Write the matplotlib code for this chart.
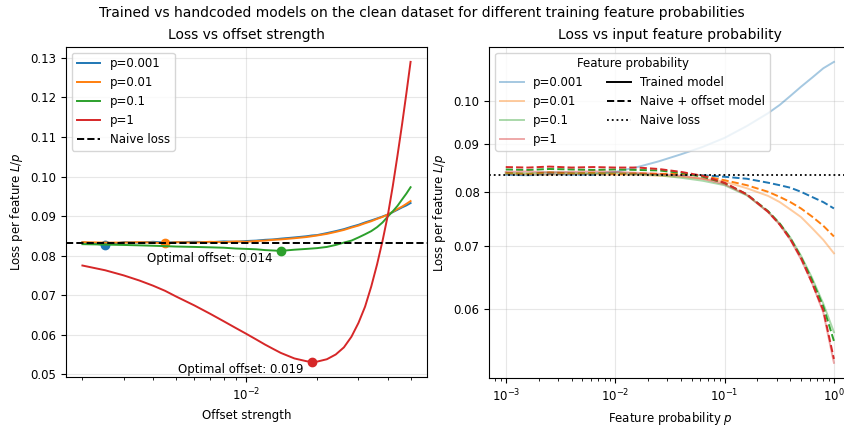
import numpy as np
import matplotlib.pyplot as plt
from matplotlib.lines import Line2D
from matplotlib.ticker import FixedLocator, FormatStrFormatter, NullLocator

# ---- left panel: loss vs offset strength ----
offsets = [0.002, 0.0025, 0.003, 0.0035, 0.004, 0.0045, 0.005, 0.006, 0.007,
           0.008, 0.009, 0.010, 0.011, 0.012, 0.013, 0.014, 0.016, 0.018,
           0.019, 0.020, 0.022, 0.024, 0.026, 0.028, 0.030, 0.032, 0.034,
           0.036, 0.038, 0.040, 0.042, 0.044, 0.046, 0.048, 0.050]
loss_off_p0001 = [0.0834, 0.0827, 0.0834, 0.0833, 0.0835, 0.0833, 0.0834,
                  0.0835, 0.0834, 0.0836, 0.0835, 0.0837, 0.0838, 0.0840,
                  0.0841, 0.0843, 0.0846, 0.0849, 0.0851, 0.0852, 0.0857,
                  0.0862, 0.0867, 0.0873, 0.0878, 0.0884, 0.0889, 0.0894,
                  0.0899, 0.0904, 0.0910, 0.0916, 0.0922, 0.0927, 0.0933]
loss_off_p001 = [0.0834, 0.0833, 0.0833, 0.0834, 0.0833, 0.0831, 0.0834,
                 0.0833, 0.0835, 0.0834, 0.0836, 0.0835, 0.0837, 0.0838,
                 0.0840, 0.0841, 0.0844, 0.0847, 0.0849, 0.0851, 0.0855,
                 0.0860, 0.0865, 0.0871, 0.0876, 0.0882, 0.0887, 0.0893,
                 0.0898, 0.0904, 0.0911, 0.0918, 0.0924, 0.0931, 0.0938]
loss_off_p01 = [0.0829, 0.0828, 0.0827, 0.0826, 0.0825, 0.0824, 0.0823,
                0.0822, 0.0821, 0.0820, 0.0818, 0.0817, 0.0816, 0.0814,
                0.0813, 0.0812, 0.0815, 0.0817, 0.0818, 0.0819, 0.0822,
                0.0827, 0.0833, 0.0838, 0.0846, 0.0854, 0.0862, 0.0872,
                0.0884, 0.0899, 0.0912, 0.0926, 0.0942, 0.0957, 0.0973]
loss_off_p1 = [0.0775, 0.0763, 0.0750, 0.0737, 0.0724, 0.0711, 0.0697,
               0.0674, 0.0653, 0.0634, 0.0617, 0.0602, 0.0588, 0.0575,
               0.0564, 0.0554, 0.0540, 0.0533, 0.0531, 0.0532, 0.0538,
               0.0550, 0.0568, 0.0595, 0.0630, 0.0671, 0.0722, 0.0778,
               0.0838, 0.0902, 0.0976, 0.1054, 0.1132, 0.1211, 0.1290]

naive_loss = 0.0833

# ---- right panel: loss vs input feature probability ----
feat_prob = [0.001, 0.0016, 0.0025, 0.004, 0.0063, 0.01, 0.016, 0.025, 0.04,
             0.063, 0.1, 0.16, 0.25, 0.32, 0.4, 0.5, 0.63, 0.8, 1.0]
trained = {
    "p=0.001": [0.0834, 0.0833, 0.0835, 0.0834, 0.0836, 0.0840, 0.0850, 0.0862,
                0.0877, 0.0893, 0.0913, 0.0940, 0.0970, 0.0990, 0.1012, 0.1035,
                0.1058, 0.1083, 0.1100],
    "p=0.01": [0.0836, 0.0835, 0.0834, 0.0836, 0.0835, 0.0834, 0.0834, 0.0832,
               0.0830, 0.0826, 0.0820, 0.0807, 0.0792, 0.0780, 0.0766, 0.0752,
               0.0732, 0.0711, 0.0688],
    "p=0.1": [0.0838, 0.0837, 0.0839, 0.0838, 0.0837, 0.0838, 0.0836, 0.0833,
              0.0828, 0.0822, 0.0813, 0.0793, 0.0762, 0.0740, 0.0715, 0.0684,
              0.0648, 0.0608, 0.0567],
    "p=1": [0.0840, 0.0841, 0.0839, 0.0840, 0.0841, 0.0840, 0.0838, 0.0836,
            0.0832, 0.0826, 0.0815, 0.0794, 0.0761, 0.0738, 0.0711, 0.0678,
            0.0640, 0.0595, 0.0526],
}
naive_offset = {
    "p=0.001": [0.0835, 0.0834, 0.0836, 0.0835, 0.0834, 0.0836, 0.0835, 0.0835,
                0.0834, 0.0833, 0.0830, 0.0826, 0.0818, 0.0813, 0.0808, 0.0800,
                0.0790, 0.0780, 0.0768],
    "p=0.01": [0.0838, 0.0836, 0.0839, 0.0837, 0.0838, 0.0836, 0.0837, 0.0836,
               0.0836, 0.0832, 0.0823, 0.0813, 0.0800, 0.0790, 0.0780, 0.0768,
               0.0753, 0.0736, 0.0717],
    "p=0.1": [0.0845, 0.0844, 0.0846, 0.0845, 0.0844, 0.0845, 0.0844, 0.0843,
              0.0838, 0.0830, 0.0817, 0.0795, 0.0763, 0.0740, 0.0714, 0.0682,
              0.0645, 0.0604, 0.0555],
    "p=1": [0.0850, 0.0849, 0.0851, 0.0849, 0.0850, 0.0849, 0.0849, 0.0846,
            0.0840, 0.0832, 0.0818, 0.0795, 0.0762, 0.0738, 0.0712, 0.0680,
            0.0640, 0.0598, 0.0531],
}

colors = ["tab:blue", "tab:orange", "tab:green", "tab:red"]
labels = ["p=0.001", "p=0.01", "p=0.1", "p=1"]


def main():
    plt.rcParams["font.size"] = 8.5
    fig = plt.figure(figsize=(8.44, 4.26), dpi=100)
    ax1 = fig.add_axes([0.0782, 0.115, 0.4277, 0.775])
    ax2 = fig.add_axes([0.5798, 0.113, 0.4277, 0.777])

    # left
    left_series = [loss_off_p0001, loss_off_p001, loss_off_p01, loss_off_p1]
    for lab, col, ys in zip(labels, colors, left_series):
        ax1.plot(offsets, ys, color=col, label=lab, lw=1.4)
        i = int(np.argmin(ys))
        ax1.plot(offsets[i], ys[i], "o", color=col, ms=6)
        if lab in ("p=0.1", "p=1"):
            ax1.annotate(f"Optimal offset: {offsets[i]:.3f}",
                         (offsets[i], ys[i]), xytext=(-6, -1),
                         textcoords="offset points", ha="right", va="top",
                         fontsize=8.5)
    ax1.axhline(naive_loss, color="black", ls="--", lw=1.4, label="Naive loss")
    ax1.set_xscale("log")
    ax1.grid(alpha=0.3)
    ax1.legend(loc="upper left", fontsize=8.5)
    ax1.set_xlabel("Offset strength")
    ax1.set_ylabel("Loss per feature $L/p$")
    ax1.set_title("Loss vs offset strength", fontsize=10)

    # right
    for lab, col in zip(labels, colors):
        ax2.plot(feat_prob, trained[lab], color=col, alpha=0.4, lw=1.4,
                 label=lab)
        ax2.plot(feat_prob, naive_offset[lab], color=col, ls="--", lw=1.4)
    ax2.axhline(naive_loss, color="black", ls=":", lw=1.3)
    ax2.set_xscale("log")
    ax2.set_yscale("log")
    ax2.yaxis.set_major_locator(FixedLocator([0.06, 0.07, 0.08, 0.09, 0.10]))
    ax2.yaxis.set_major_formatter(FormatStrFormatter("%.2f"))
    ax2.yaxis.set_minor_locator(NullLocator())
    ax2.grid(alpha=0.3)
    handles, _ = ax2.get_legend_handles_labels()
    handles += [
        Line2D([], [], color="black", ls="-", lw=1.4),
        Line2D([], [], color="black", ls="--", lw=1.4),
        Line2D([], [], color="black", ls=":", lw=1.3),
    ]
    ax2.legend(handles, labels + ["Trained model", "Naive + offset model",
                                  "Naive loss"],
               title="Feature probability", ncol=2, loc="upper left",
               fontsize=8.5, title_fontsize=8.5)
    ax2.set_xlabel("Feature probability $p$")
    ax2.set_ylabel("Loss per feature $L/p$")
    ax2.set_title("Loss vs input feature probability", fontsize=10)

    fig.suptitle("Trained vs handcoded models on the clean dataset for "
                 "different training feature probabilities", fontsize=10,
                 y=0.985)
    return fig


if __name__ == "__main__":
    fig = main()
    fig.savefig("out.png", dpi=100)
